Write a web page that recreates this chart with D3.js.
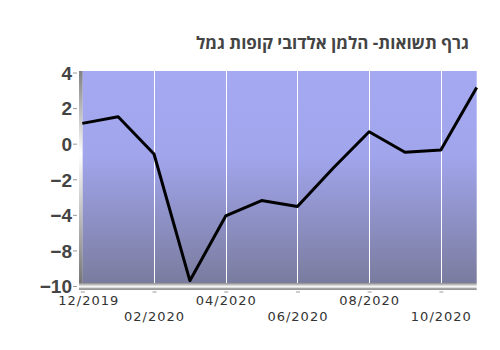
<!DOCTYPE html>
<html lang="he">
<head>
    <meta charset="UTF-8">
    <title>גרף תשואות</title>
    <script src="https://d3js.org/d3.v7.min.js"></script>
    <style>
        body { margin: 0; background: #fff; }
        .title { font-family: "Open Sans", "Liberation Sans", sans-serif; font-weight: bold; font-size: 17px; fill: #444; }
        .ylab { font-family: "Liberation Sans", Arial, sans-serif; font-weight: bold; font-size: 19px; fill: #444; }
        .xlab { font-family: "DejaVu Sans", sans-serif; font-size: 13px; fill: #333; letter-spacing: 1px; }
        .line { fill: none; stroke: #000; stroke-width: 3px; stroke-linejoin: round; }
    </style>
</head>
<body>
<svg width="500" height="350"></svg>
<script>
    // data
    const months = ["12/2019", "01/2020", "02/2020", "03/2020", "04/2020", "05/2020",
                    "06/2020", "07/2020", "08/2020", "09/2020", "10/2020", "11/2020"];
    const returns = [1.14, 1.51, -0.58, -9.70, -4.12, -3.2, -3.53, -1.37, 0.67, -0.48, -0.35, 3.16];
    const yTickLabels = [4, 2, 0, -2, -4, -8, -10];
    const titleText = "גרף תשואות- הלמן אלדובי קופות גמל";

    const svg = d3.select("svg");
    const plotLeft = 82.3, plotRight = 476.7, plotTop = 71, plotBottom = 283;
    const yTop = 72.5, yBottom = 286;

    // x: one point per month
    const x = d3.scalePoint().domain(months).range([plotLeft, plotRight]);

    // y: labels are evenly spaced on the original axis, so use a polylinear scale
    const step = (yBottom - yTop) / (yTickLabels.length - 1);
    const y = d3.scaleLinear()
        .domain(yTickLabels)
        .range(yTickLabels.map((d, i) => yTop + i * step));

    // gradients
    const defs = svg.append("defs");
    const bg = defs.append("linearGradient").attr("id", "bg").attr("x1", 0).attr("y1", 0).attr("x2", 0).attr("y2", 1);
    bg.append("stop").attr("offset", "0%").attr("stop-color", "#a5a9f1");
    bg.append("stop").attr("offset", "40%").attr("stop-color", "#a1a5ec");
    bg.append("stop").attr("offset", "100%").attr("stop-color", "#7a7c9e");

    const wall = defs.append("linearGradient").attr("id", "wall").attr("x1", 0).attr("y1", 0).attr("x2", 0).attr("y2", 1);
    wall.append("stop").attr("offset", "0%").attr("stop-color", "#808080");
    wall.append("stop").attr("offset", "38%").attr("stop-color", "#ffffff");
    wall.append("stop").attr("offset", "100%").attr("stop-color", "#6e6e6e");

    const floor = defs.append("linearGradient").attr("id", "floor").attr("x1", 0).attr("y1", 0).attr("x2", 0).attr("y2", 1);
    floor.append("stop").attr("offset", "0%").attr("stop-color", "#8a8a8a");
    floor.append("stop").attr("offset", "35%").attr("stop-color", "#d8d8d8");
    floor.append("stop").attr("offset", "55%").attr("stop-color", "#ffffff");
    floor.append("stop").attr("offset", "80%").attr("stop-color", "#a0a0a0");
    floor.append("stop").attr("offset", "100%").attr("stop-color", "#909090");

    // plot background
    svg.append("rect")
        .attr("x", plotLeft).attr("y", plotTop)
        .attr("width", plotRight - plotLeft).attr("height", plotBottom - plotTop)
        .attr("fill", "url(#bg)");

    // left wall and floor
    svg.append("rect")
        .attr("x", 79).attr("y", plotTop)
        .attr("width", 3.5).attr("height", plotBottom - plotTop + 7)
        .attr("fill", "url(#wall)");
    svg.append("rect")
        .attr("x", 79).attr("y", plotBottom)
        .attr("width", plotRight - 79).attr("height", 7)
        .attr("fill", "url(#floor)");

    // every other month gets a tick / label
    const tickMonths = months.filter((d, i) => i % 2 === 0);

    // white vertical gridlines
    svg.append("g").selectAll("line")
        .data(tickMonths.slice(1))
        .join("line")
        .attr("x1", d => Math.round(x(d)) + 0.5).attr("x2", d => Math.round(x(d)) + 0.5)
        .attr("y1", plotTop).attr("y2", plotBottom)
        .attr("stroke", "#fff").attr("stroke-width", 1);

    // y axis
    const yAxis = svg.append("g")
        .attr("transform", "translate(77,0)")
        .call(d3.axisLeft(y).tickValues(yTickLabels).tickSize(0).tickPadding(5));
    yAxis.select(".domain").remove();
    yAxis.selectAll(".tick text").attr("class", "ylab").attr("dy", "0.36em");
    yAxis.selectAll(".tick").append("line")
        .attr("x1", -4).attr("x2", 0)
        .attr("stroke", "#999");

    // x axis
    const xAxis = svg.append("g")
        .attr("transform", "translate(0,292)")
        .call(d3.axisBottom(x).tickValues(tickMonths).tickSize(0));
    xAxis.select(".domain").remove();
    xAxis.selectAll(".tick").append("line")
        .attr("x1", -2).attr("x2", 2)
        .attr("stroke", "#999");
    xAxis.selectAll(".tick text")
        .attr("class", "xlab")
        .attr("dy", null)
        .attr("y", (d, i) => i % 2 === 0 ? 13 : 29)
        .attr("dx", (d, i) => i === 0 ? 6 : 0);

    // returns line
    const line = d3.line()
        .x((d, i) => x(months[i]))
        .y(d => y(d));
    svg.append("path")
        .datum(returns)
        .attr("class", "line")
        .attr("d", line);

    // title
    svg.append("text")
        .attr("class", "title")
        .attr("x", 469).attr("y", 49)
        .attr("text-anchor", "end")
        .text(titleText);
</script>
</body>
</html>
